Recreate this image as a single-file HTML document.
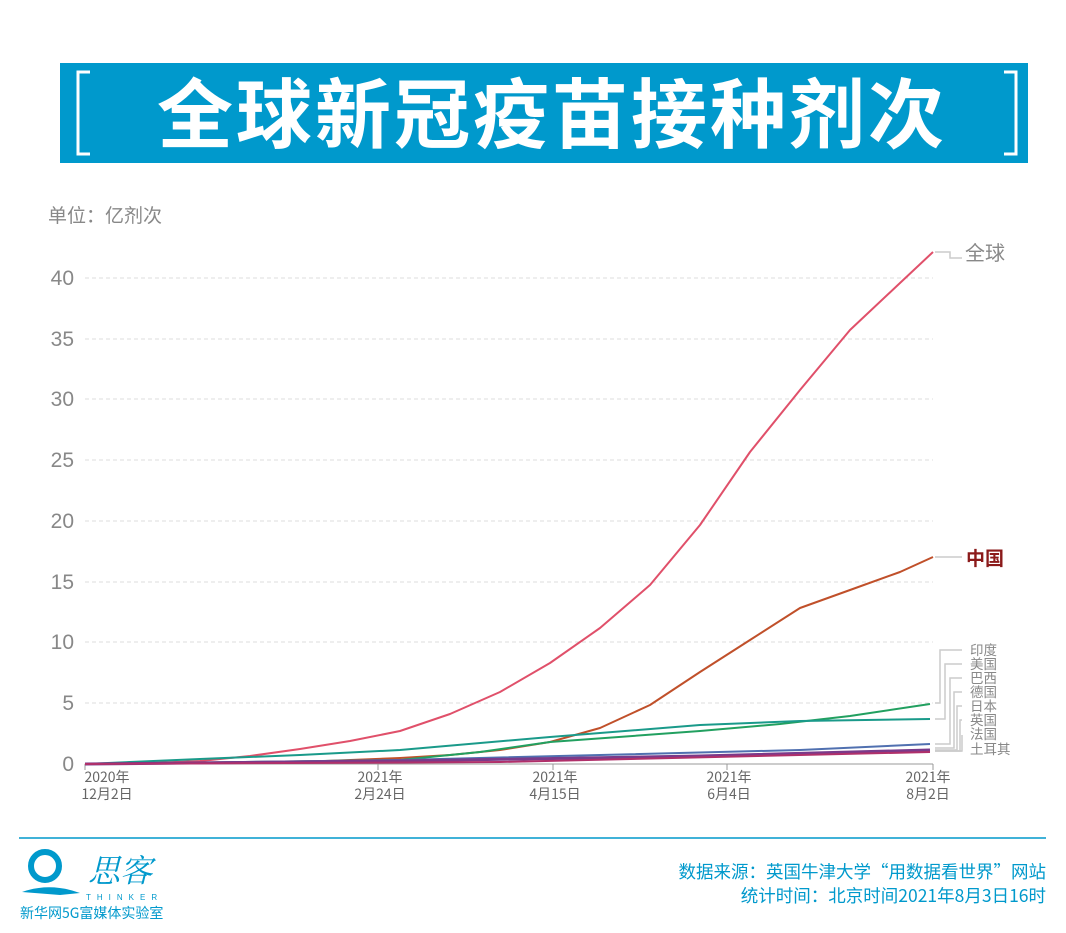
<!DOCTYPE html>
<html><head><meta charset="utf-8"><style>
body{margin:0;width:1066px;height:933px;background:#fff;overflow:hidden;font-family:"Liberation Sans","Noto Sans CJK SC",sans-serif;}
</style></head><body>
<svg width="1066" height="933" xmlns="http://www.w3.org/2000/svg" style="position:absolute;left:0;top:0" font-family="Liberation Sans, Noto Sans CJK SC, sans-serif">
<rect x="60" y="63" width="968" height="100" fill="#0099cc"/>
<path d="M90 72 H78 V154 H90" stroke="#fff" stroke-width="3" fill="none"/>
<path d="M1004 72 H1016 V154 H1004" stroke="#fff" stroke-width="3" fill="none"/>
<text x="552" y="142" text-anchor="middle" fill="#fff" font-size="76" font-weight="bold" font-family="Noto Sans CJK SC, sans-serif" letter-spacing="3">全球新冠疫苗接种剂次</text>
<text x="48" y="222" fill="#888" font-size="19" font-family="Noto Sans CJK SC, sans-serif">单位：亿剂次</text>
<g stroke="#ddd" stroke-dasharray="4,3" stroke-width="1">
<line x1="85" x2="933" y1="278" y2="278"/><line x1="85" x2="933" y1="339" y2="339"/><line x1="85" x2="933" y1="399" y2="399"/><line x1="85" x2="933" y1="460" y2="460"/><line x1="85" x2="933" y1="521" y2="521"/><line x1="85" x2="933" y1="582" y2="582"/><line x1="85" x2="933" y1="642" y2="642"/><line x1="85" x2="933" y1="703" y2="703"/>
</g>
<g fill="#888" font-size="21" text-anchor="end">
<text x="74" y="285">40</text><text x="74" y="346">35</text><text x="74" y="406">30</text><text x="74" y="467">25</text><text x="74" y="528">20</text><text x="74" y="589">15</text><text x="74" y="649">10</text><text x="74" y="710">5</text><text x="74" y="771">0</text>
</g>
<line x1="85" x2="933" y1="764" y2="764" stroke="#999"/>
<g stroke="#999"><line x1="85" x2="85" y1="764" y2="770"/><line x1="378" x2="378" y1="764" y2="770"/><line x1="553" x2="553" y1="764" y2="770"/><line x1="727" x2="727" y1="764" y2="770"/><line x1="933" x2="933" y1="764" y2="770"/></g>
<g fill="#666" font-size="14" text-anchor="middle" font-family="Noto Sans CJK SC, sans-serif">
<text x="107" y="782">2020年</text><text x="107" y="799">12月2日</text>
<text x="380" y="782">2021年</text><text x="380" y="799">2月24日</text>
<text x="555" y="782">2021年</text><text x="555" y="799">4月15日</text>
<text x="729" y="782">2021年</text><text x="729" y="799">6月4日</text>
<text x="928" y="782">2021年</text><text x="928" y="799">8月2日</text>
</g>
<g fill="none" stroke-width="2" stroke-linejoin="round">
<path d="M85 764 L150 763 L200 761 L250 756 L300 749 L350 741 L400 731 L450 714 L500 692 L550 663 L600 628 L650 585 L700 525 L750 452 L800 390 L850 330 L900 283 L933 252" stroke="#e0506a"/>
<path d="M85 764 L300 762 L400 758 L450 755 L500 750 L550 742 L600 728 L650 705 L700 672 L750 640 L800 608 L850 590 L900 572 L933 557" stroke="#c0502a"/>
<path d="M85 764 L400 760 L480 752 L550 742 L700 731 L780 724 L850 716 L930 704" stroke="#22a060"/>
<path d="M85 764 L200 759 L300 755 L400 750 L550 737 L700 725 L800 721 L930 719" stroke="#1a9a8a"/>
<path d="M85 764 L400 760 L600 755 L800 750 L930 744" stroke="#5070b0"/>
<path d="M85 764 L400 761 L700 756 L930 750" stroke="#7a3a8a" stroke-width="3"/>
<path d="M85 764 L500 762 L930 752" stroke="#b0306a"/>
</g>
<g fill="none" stroke="#ccc" stroke-width="1.5">
<path d="M935 252 H950 V258 H962"/>
<path d="M935 557 H962"/>
<path d="M935 703 H940 V650 H962"/><path d="M935 719 H945 V664 H962"/><path d="M935 744 H950 V678 H962"/><path d="M935 748 H954 V692 H962"/><path d="M935 750 H957 V706 H962"/><path d="M935 751 H960 V720 H962"/><path d="M935 751 H962 V735"/><path d="M935 751 H962"/>
</g>
<text x="965" y="260" fill="#888" font-size="20" font-family="Noto Sans CJK SC, sans-serif">全球</text>
<text x="966" y="565" fill="#8b1a1a" font-size="19" font-weight="bold" font-family="Noto Sans CJK SC, sans-serif">中国</text>
<g fill="#888" font-size="13.5" font-family="Noto Sans CJK SC, sans-serif">
<text x="970" y="655">印度</text><text x="970" y="669">美国</text><text x="970" y="683">巴西</text><text x="970" y="697">德国</text><text x="970" y="711">日本</text><text x="970" y="725">英国</text><text x="970" y="739">法国</text><text x="970" y="754">土耳其</text>
</g>
<line x1="19" x2="1046" y1="838" y2="838" stroke="#0099cc" stroke-width="1.5"/>
<g fill="#0099cc">
<circle cx="45" cy="866" r="14" fill="none" stroke="#0099cc" stroke-width="6"/>
<path d="M22 892 Q50 882 80 893 L60 895 Z"/>
<text x="88" y="882" font-size="32" font-family="Noto Serif CJK SC, serif" font-style="italic">思客</text>
<text x="86" y="900" font-size="8" letter-spacing="6">THINKER</text>
<text x="20" y="918" font-size="14" font-family="Noto Sans CJK SC, sans-serif">新华网5G富媒体实验室</text>
<text x="1046" y="878" text-anchor="end" font-size="17.5" font-family="Noto Sans CJK SC, sans-serif">数据来源：英国牛津大学“用数据看世界”网站</text>
<text x="1046" y="902" text-anchor="end" font-size="17.5" font-family="Noto Sans CJK SC, sans-serif">统计时间：北京时间2021年8月3日16时</text>
</g>
</svg>
</body></html>
